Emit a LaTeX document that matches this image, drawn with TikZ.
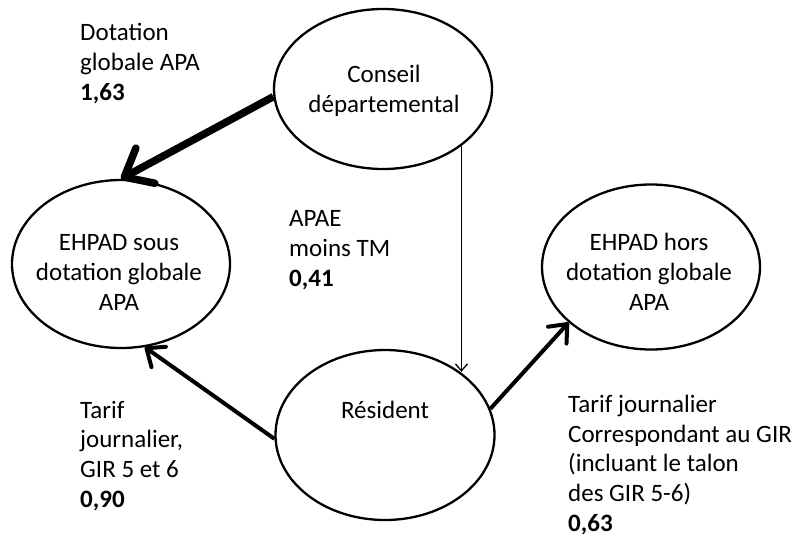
\documentclass[tikz,border=0pt]{standalone}
\usepackage{fontspec}
\setmainfont{Carlito}
\usetikzlibrary{arrows.meta,shapes.geometric}
\begin{document}
\begin{tikzpicture}[x=1pt,y=-1pt,
  bubble/.style={draw, ellipse, line width=2.3pt, minimum width=218pt, minimum height=164pt, inner sep=0pt},
  txt/.style={font=\fontsize{25}{29.6}\selectfont, inner sep=0pt},
  lbl/.style={txt, anchor=base west, align=left},
  ctr/.style={txt, anchor=base, align=center},
  thickarrow/.style={line width=7.5pt, -{Straight Barb[round,length=24pt,width=40pt]}},
  thinarrow/.style={line width=1.3pt, -{Straight Barb[length=7pt,width=12pt]}},
  medarrow/.style={line width=4pt, -{Straight Barb[round,length=15pt,width=25pt]}}
]
\useasboundingbox (0,0) rectangle (799,538);

\node[bubble, minimum height=160pt] (conseil) at (383,89) {};
\node[bubble, minimum height=168pt] (sous) at (121,264) {};
\node[bubble, minimum height=165pt] (hors) at (651,267) {};
\node[bubble, minimum width=219pt, minimum height=170pt] (resident) at (385,435) {};

% base anchor = baseline of the last line
\node[ctr] (tconseil) at (384,112) {Conseil\\départemental};
\node[ctr] (tsous) at (119,310) {EHPAD sous\\dotation globale\\APA};
\node[ctr] (thors) at (649,310) {EHPAD hors\\dotation globale\\APA};
\node[ctr] (tresident) at (385,418) {Résident};

\node[lbl] (l1) at (80,100) {Dotation\\globale APA\\\textbf{1,63}};
\node[lbl] (l2) at (289,286) {APAE\\moins TM\\\textbf{0,41}};
\node[lbl] (l3) at (80,507) {Tarif\\journalier,\\GIR 5 et 6\\\textbf{0,90}};
\node[lbl] (l4) at (568,531) {Tarif journalier\\Correspondant au GIR\\(incluant le talon\\des GIR 5-6)\\\textbf{0,63}};

\draw[thickarrow] (conseil.184) -- (sous.north);
\draw[thinarrow] (conseil.-36) -- (conseil.-36 |- resident.40);
\draw[medarrow] (resident.182) -- (sous.-74);
\draw[medarrow] (resident.14) -- (hors.214);
\end{tikzpicture}
\end{document}
